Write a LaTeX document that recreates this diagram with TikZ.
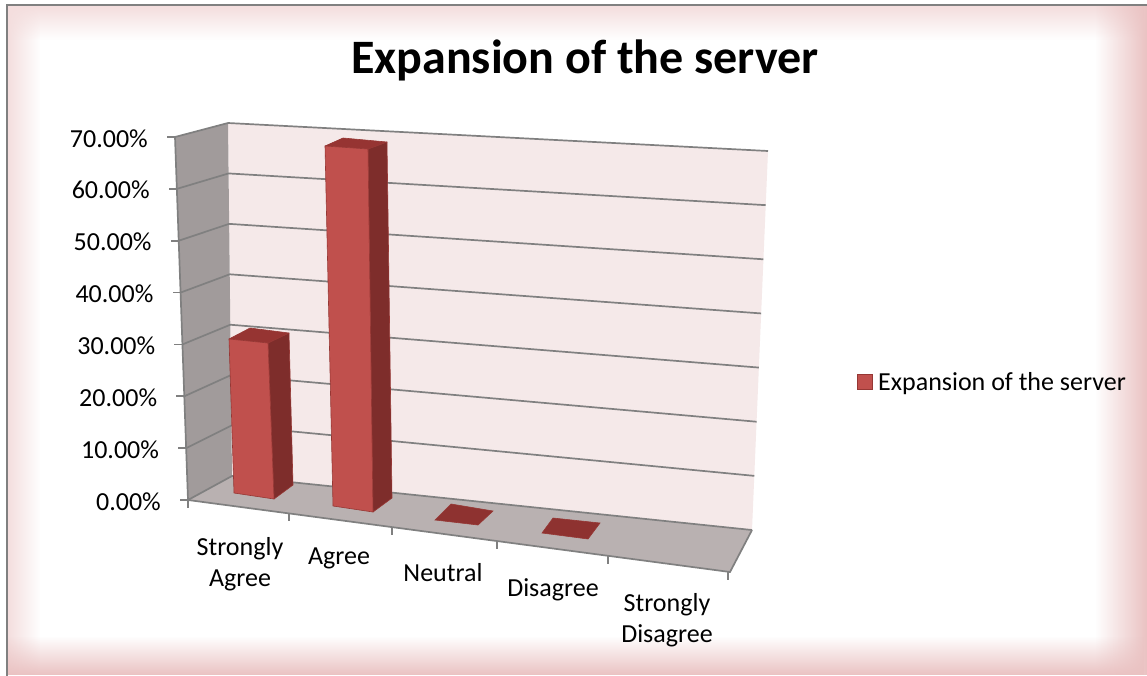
\documentclass[tikz,border=0pt]{standalone}
\usepackage{fontspec}
\setmainfont{Carlito}
\usetikzlibrary{fadings,calc}
\definecolor{gridgray}{RGB}{128,128,128}
\definecolor{wallpink}{RGB}{245,233,233}
\definecolor{sidegray}{RGB}{161,155,155}
\definecolor{floorgray}{RGB}{185,177,177}
\definecolor{barfront}{RGB}{192,80,77}
\definecolor{barside}{RGB}{126,45,43}
\definecolor{bartop}{RGB}{150,52,50}
\definecolor{barflat}{RGB}{142,50,48}
\definecolor{baredge}{RGB}{150,55,52}
\definecolor{glowlight}{RGB}{244,222,222}
\definecolor{glowdark}{RGB}{234,194,194}
\definecolor{framegray}{RGB}{128,128,128}
\tikzfading[name=opaqueleft, left color=transparent!0, right color=transparent!100]
\tikzfading[name=opaqueright, left color=transparent!100, right color=transparent!0]
\tikzfading[name=opaquetop, top color=transparent!0, bottom color=transparent!100]
\tikzfading[name=opaquebottom, top color=transparent!100, bottom color=transparent!0]
\tikzset{
  grid line/.style={draw=gridgray, line width=1.7pt},
  axis line/.style={draw=gridgray, line width=1.7pt},
  bar face/.style={draw=baredge, line width=0.6pt, line join=round},
  ylabel/.style={anchor=base east, inner sep=0pt, font=\fontsize{26}{30}\selectfont},
  xlabel/.style={anchor=north, inner sep=0pt, align=center, font=\fontsize{26}{31}\selectfont},
}
\begin{document}
\begin{tikzpicture}[x=1pt, y=-1pt]
\useasboundingbox (0,0) rectangle (1147,675);
\fill[white] (0,0) rectangle (1147,675);
% glow
\fill[glowlight, path fading=opaqueleft] (8,6) rectangle (40,675);
\fill[glowlight, path fading=opaquetop] (8,6) rectangle (1147,40);
\fill[glowdark, path fading=opaqueright] (1095,6) rectangle (1147,675);
\fill[glowdark, path fading=opaquebottom] (8,636) rectangle (1147,675);
% frame
\draw[framegray, line width=1.6pt] (7,680) -- (7,5) -- (1160,5);
% title
\node[anchor=base, inner sep=0pt, font=\fontsize{48}{56}\bfseries] (title) at (585,73) {Expansion of the server};
% walls and floor
\coordinate (FLt) at (175,137);
\coordinate (FLb) at (188,500);
\coordinate (BLt) at (228,123);
\coordinate (BLb) at (232,476);
\coordinate (BRt) at (768,151);
\coordinate (BRb) at (752,530);
\coordinate (FRb) at (730,572);
\fill[wallpink] (BLt) -- (BRt) -- (BRb) -- (BLb) -- cycle;
\fill[sidegray] (FLt) -- (BLt) -- (BLb) -- (FLb) -- cycle;
\fill[floorgray] (FLb) -- (BLb) -- (BRb) -- (FRb) -- cycle;
% gridlines
\foreach \k in {0,...,7}{
  \draw[grid line] ($(FLb)!{\k/7}!(FLt)$) -- ($(BLb)!{\k/7}!(BLt)$) -- ($(BRb)!{\k/7}!(BRt)$);
  \draw[axis line] ($(FLb)!{\k/7}!(FLt)$) -- ++(-8,0);
}
\draw[axis line] (FLt) -- (FLb);
\draw[axis line] (FLb) -- (FRb) -- (BRb);
\foreach \t/\tx in {0/188,1/289,2/392,3/497,4/608,5/728}{
  \coordinate (tk\t) at ($(FLb)!{(\tx-188)/542}!(FRb)$);
  \draw[axis line] (tk\t) -- ++(0,8);
}
% y labels
\foreach \k/\lab in {0/0.00\%,1/10.00\%,2/20.00\%,3/30.00\%,4/40.00\%,5/50.00\%,6/60.00\%,7/70.00\%}{
  \node[ylabel] (yl\k) at ($($(FLb)!{\k/7}!(FLt)$)+(-27,10)$) {\lab};
}
% bars
\fill[barflat, draw=baredge, line width=0.6pt] (435,520) -- (451,504) -- (493,511) -- (478,525) -- cycle;
\fill[barflat, draw=baredge, line width=0.6pt] (542,533) -- (553,518) -- (600,523) -- (588,539) -- cycle;
% bar 1
\filldraw[bar face, fill=barside] (268,343) -- (289,333) -- (293,485) -- (274,499) -- cycle;
\filldraw[bar face, fill=bartop] (229,339) -- (250,328) -- (289,333) -- (268,343) -- cycle;
\filldraw[bar face, fill=barfront] (229,339) -- (268,343) -- (274,499) -- (234,493) -- cycle;
% bar 2
\filldraw[bar face, fill=barside] (368,149) -- (387,142) -- (392,498) -- (373,512) -- cycle;
\filldraw[bar face, fill=bartop] (325,146) -- (343,138) -- (387,142) -- (368,149) -- cycle;
\filldraw[bar face, fill=barfront] (325,146) -- (368,149) -- (373,512) -- (333,506) -- cycle;
% x labels
\node[xlabel] (xl1) at (240,537) {Strongly\\Agree};
\node[xlabel] (xl2) at (339,548) {Agree};
\node[xlabel] (xl3) at (443,563) {Neutral};
\node[xlabel] (xl4) at (553,578) {Disagree};
\node[xlabel] (xl5) at (667,593) {Strongly\\Disagree};
% legend
\filldraw[fill=barfront, draw=baredge, line width=0.8pt] (857,374) rectangle (872,389);
\node[anchor=base west, inner sep=0pt, font=\fontsize{26}{30}\selectfont] (leg) at (878,390) {Expansion of the server};
\end{tikzpicture}
\end{document}
